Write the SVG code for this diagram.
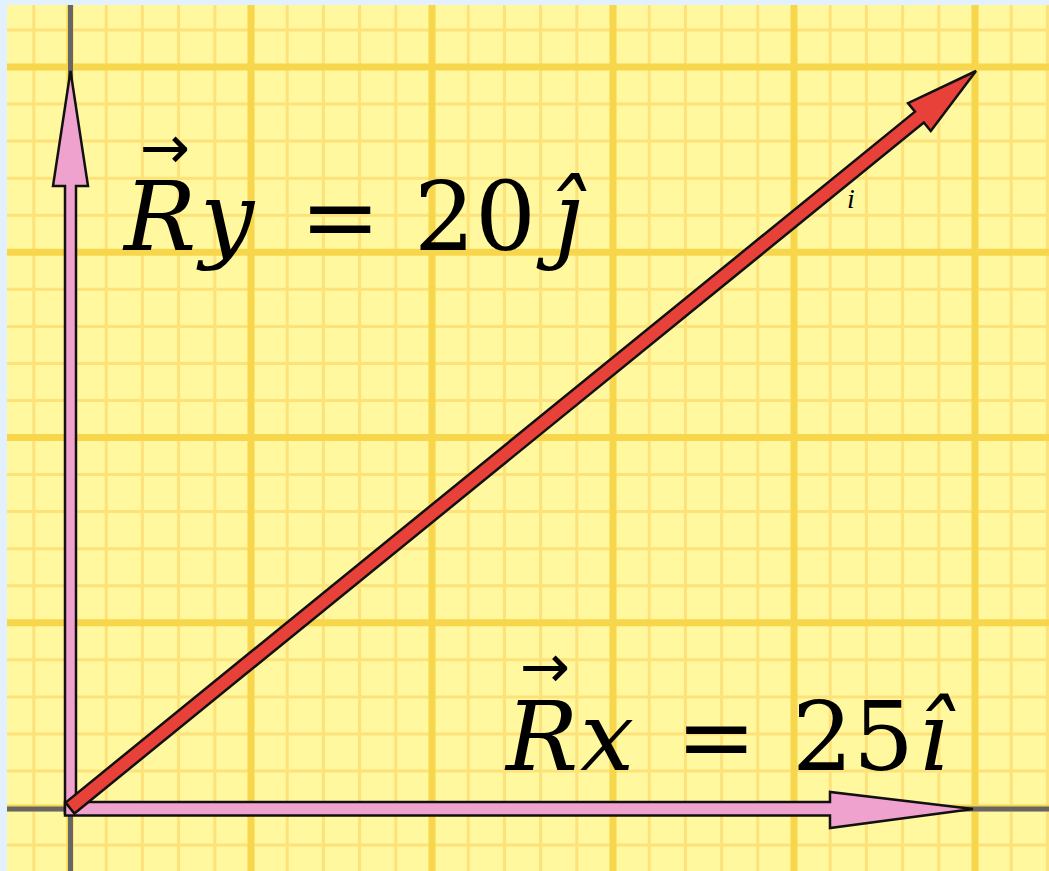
<svg xmlns="http://www.w3.org/2000/svg" width="1049" height="871" viewBox="0 0 1049 871">
<defs>
<style>
.minor{stroke:#fde27a;stroke-width:3;fill:none}
.major{stroke:#f8d64c;stroke-width:7;fill:none}
.axis{stroke:#666;stroke-width:5;fill:none}
.pink{fill:#f0a2cf;stroke:#111;stroke-width:2.5;stroke-linejoin:miter}
.red{fill:#e8413a;stroke:#111;stroke-width:2.5;stroke-linejoin:miter}
.m{font-family:"DejaVu Serif","Liberation Serif",serif;fill:#000}
.it{font-style:italic}
.vec{font-family:"DejaVu Sans",sans-serif;fill:#000}
</style>
<filter id="soft" x="-1%" y="-1%" width="102%" height="102%"><feGaussianBlur stdDeviation="0.7"/></filter>
</defs>
<rect x="0" y="0" width="1049" height="871" fill="#e3f1ff"/>
<rect x="7" y="5" width="1042" height="866" fill="#fff89f"/>
<g id="grid" filter="url(#soft)">
<path class="minor" d="M33.8 5V871M106.2 5V871M142.4 5V871M178.6 5V871M214.8 5V871M287.2 5V871M323.4 5V871M359.6 5V871M395.8 5V871M468.2 5V871M504.4 5V871M540.6 5V871M576.8 5V871M649.2 5V871M685.4 5V871M721.6 5V871M757.8 5V871M830.2 5V871M866.4 5V871M902.6 5V871M938.8 5V871M1011.2 5V871M1047.4 5V871"/>
<path class="minor" d="M7 30H1049M7 104H1049M7 141.1H1049M7 178.2H1049M7 215.2H1049M7 289.3H1049M7 326.4H1049M7 363.4H1049M7 400.5H1049M7 474.6H1049M7 511.6H1049M7 548.7H1049M7 585.7H1049M7 659.8H1049M7 696.9H1049M7 733.9H1049M7 771H1049M7 845H1049"/>
<path class="major" d="M70 5V871M251 5V871M432 5V871M613 5V871M794 5V871M975 5V871M7 67H1049M7 252.3H1049M7 437.5H1049M7 622.8H1049M7 808H1049"/>
</g>
<g id="axes">
<path class="axis" d="M70.5 5V871M7 809H1049"/>
</g>
<g id="connectors">
<polygon id="ry-arrow" class="pink" points="65,813 65,186 53,186 70.5,71 88,186 76,186 76,813"/>
<polygon id="rx-arrow" class="pink" points="65,802 830,802 830,792 973,809 830,828 830,815.5 65,815.5"/>
<polygon id="r-arrow" class="red" points="74.42,813.43 923.82,122.53 930.76,131.06 976,71 908.04,103.14 914.98,111.67 65.58,802.57"/>
</g>
<g id="label-ry">
<text class="vec" x="140" y="168" font-size="60">→</text>
<text class="m it" x="124" y="250" font-size="96">R</text>
<text class="m it" x="200" y="250" font-size="96">y</text>
<text class="m" x="300" y="250" font-size="96">=</text>
<text class="m" x="414" y="250" font-size="96" textLength="122" lengthAdjust="spacingAndGlyphs">20</text>
<text class="m it" x="552" y="250" font-size="96">ĵ</text>
</g>
<g id="label-rx">
<text class="vec" x="520" y="687" font-size="60">→</text>
<text class="m it" x="506" y="770" font-size="96">R</text>
<text class="m it" x="580" y="770" font-size="96">x</text>
<text class="m" x="676" y="770" font-size="96">=</text>
<text class="m" x="792" y="770" font-size="96" textLength="122" lengthAdjust="spacingAndGlyphs">25</text>
<text class="m it" x="918" y="770" font-size="96">î</text>
</g>
<g id="label-i">
<text x="847" y="208" font-family="Liberation Serif, serif" font-style="italic" font-size="28">i</text>
</g>
</svg>
